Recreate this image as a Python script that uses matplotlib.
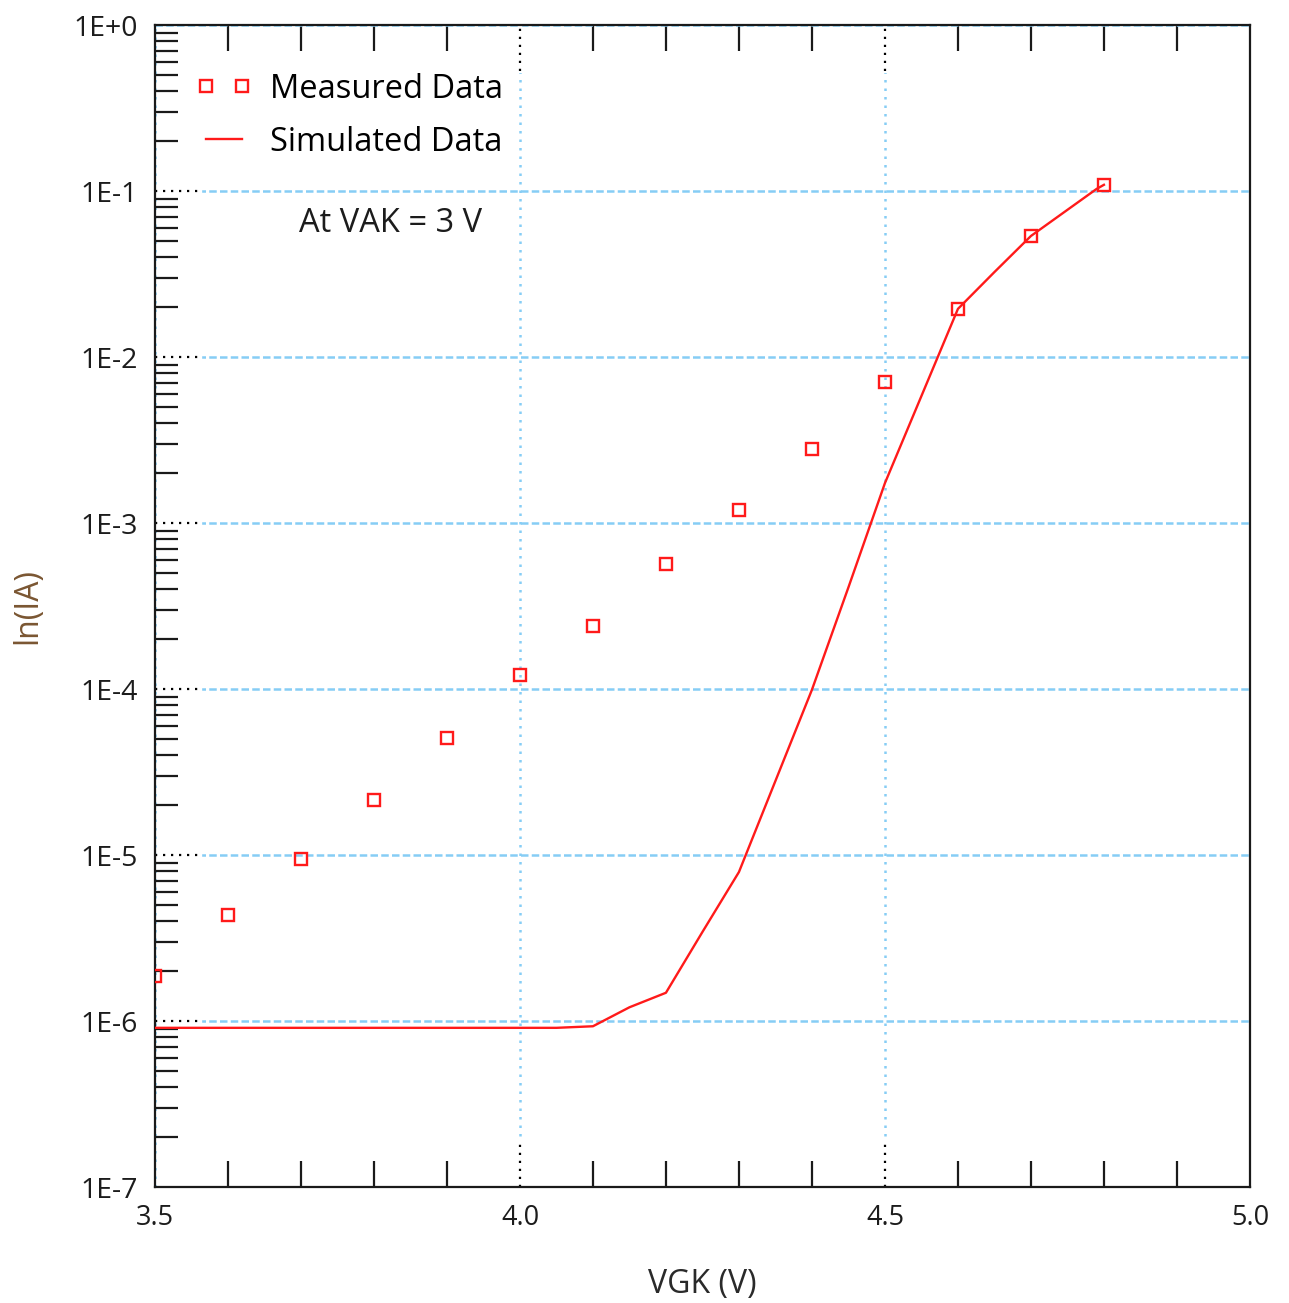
"""Plot measured and simulated anode current against gate-cathode voltage."""
from __future__ import annotations

import math

import matplotlib

matplotlib.use("Agg")
import matplotlib.pyplot as plt
import matplotlib.transforms as mtransforms
from matplotlib.ticker import FixedLocator, FuncFormatter, LogLocator, NullFormatter

# Measured IA (A) at VAK = 3 V
VGK_MEASURED = [3.5, 3.6, 3.7, 3.8, 3.9, 4.0, 4.1, 4.2, 4.3, 4.4, 4.5, 4.6, 4.7, 4.8]
IA_MEASURED = [1.87e-6, 4.35e-6, 9.46e-6, 2.14e-5, 5.07e-5, 1.21e-4, 2.40e-4,
               5.67e-4, 1.20e-3, 2.79e-3, 7.07e-3, 1.95e-2, 5.36e-2, 0.109]

# Simulated IA (A)
VGK_SIMULATED = [3.5, 4.05, 4.1, 4.15, 4.2, 4.25, 4.3, 4.4, 4.45, 4.5,
                 4.6, 4.65, 4.7, 4.79, 4.8]
IA_SIMULATED = [9.1e-7, 9.1e-7, 9.3e-7, 1.21e-6, 1.48e-6, 3.44e-6, 7.9e-6,
                9.9e-5, 4.1e-4, 1.74e-3, 1.95e-2, 3.25e-2, 5.36e-2, 0.103, 0.109]

X_LIMITS = (3.5, 5.0)
Y_LIMITS = (1e-7, 1.0)
X_LABELED = [3.5, 4.0, 4.5, 5.0]
X_MINOR = [3.6, 3.7, 3.8, 3.9, 4.1, 4.2, 4.3, 4.4, 4.6, 4.7, 4.8, 4.9]
Y_DECADES = [1e-7, 1e-6, 1e-5, 1e-4, 1e-3, 1e-2, 1e-1, 1.0]

RED = "#ff1a1a"
GRID_BLUE = "#86cdf5"
INK = "#1c1c1c"


def configure_style() -> None:
    plt.rcParams.update(
        {
            "font.family": ["Open Sans", "DejaVu Sans"],
            "font.size": 20,
            "axes.linewidth": 1.6,
            "axes.edgecolor": "#1a1a1a",
        }
    )


def decade_label(value, _pos) -> str:
    exponent = int(round(math.log10(value)))
    return f"1E{exponent:+d}"


def draw_dotted_marks(axis) -> None:
    """Short black dotted marks where the grid meets the frame."""
    ytrans = mtransforms.blended_transform_factory(axis.transAxes, axis.transData)
    xtrans = mtransforms.blended_transform_factory(axis.transData, axis.transAxes)
    for value in Y_DECADES[1:-1]:
        axis.plot([0, 0.041], [value, value], transform=ytrans, color="white",
                  lw=2.4, zorder=2.1, clip_on=False)
        axis.plot([0, 0.041], [value, value], transform=ytrans, color="black",
                  lw=1.6, ls=(0, (1, 2.6)), zorder=2.2, clip_on=False)
    for value in X_LABELED[1:-1]:
        for span in ((0, 0.04), (0.96, 1.0)):
            axis.plot([value, value], span, transform=xtrans, color="white",
                      lw=2.4, zorder=2.1, clip_on=False)
            axis.plot([value, value], span, transform=xtrans, color="black",
                      lw=1.6, ls=(0, (1, 2.6)), zorder=2.2, clip_on=False)


def main() -> int:
    configure_style()
    fig = plt.figure(figsize=(12.89, 13.03), dpi=100)
    axis = fig.add_axes([0.1202, 0.0890, 0.8495, 0.8918])

    axis.set_yscale("log")
    axis.set_xlim(*X_LIMITS)
    axis.set_ylim(*Y_LIMITS)

    axis.plot(VGK_SIMULATED, IA_SIMULATED, color=RED, lw=1.7,
              label="Simulated Data", zorder=3)
    axis.plot(VGK_MEASURED, IA_MEASURED, ls="none", marker="s", ms=8,
              mfc="none", mec=RED, mew=1.7, label="Measured Data", zorder=4)

    # x: labelled ticks every 0.5 V (drawn as dotted marks), plain ticks every 0.1 V
    axis.xaxis.set_major_locator(FixedLocator(X_LABELED))
    axis.xaxis.set_minor_locator(FixedLocator(X_MINOR))
    axis.xaxis.set_major_formatter(FuncFormatter(lambda v, _p: f"{v:.1f}"))
    axis.tick_params(axis="x", which="major", direction="in", length=0,
                     pad=12, labelsize=19.5, labelcolor=INK, top=True)
    axis.tick_params(axis="x", which="minor", direction="in", length=19,
                     width=1.6, color="#1a1a1a", top=True, bottom=True)

    axis.yaxis.set_major_locator(FixedLocator(Y_DECADES))
    axis.yaxis.set_minor_locator(LogLocator(base=10, subs=range(2, 10), numticks=20))
    axis.yaxis.set_major_formatter(FuncFormatter(decade_label))
    axis.yaxis.set_minor_formatter(NullFormatter())
    axis.tick_params(axis="y", which="major", direction="in", length=0,
                     pad=12, labelsize=20.5, labelcolor=INK, right=False)
    axis.tick_params(axis="y", which="minor", direction="in", length=16.5,
                     width=1.6, color="#1a1a1a", right=False)

    axis.yaxis.grid(True, which="major", color=GRID_BLUE, lw=1.8,
                    ls=(0, (3.0, 1.3)))
    axis.xaxis.grid(True, which="major", color=GRID_BLUE, lw=1.8,
                    ls=(0, (1, 2.4)))
    axis.set_axisbelow(True)
    draw_dotted_marks(axis)

    axis.set_xlabel("VGK (V)", fontsize=23, color="#2a2a2a", labelpad=26)
    axis.set_ylabel("ln(IA)", fontsize=23, color="#7a5632", labelpad=21)

    handles, labels = axis.get_legend_handles_labels()
    axis.legend(handles[::-1], labels[::-1], loc="upper left",
                bbox_to_anchor=(0.038, 0.959), frameon=False, numpoints=2,
                fontsize=23.5, handlelength=1.7, handletextpad=0.55,
                labelspacing=0.62, borderpad=0, borderaxespad=0)

    axis.text(0.132, 0.8295, "At VAK = 3 V", transform=axis.transAxes,
              fontsize=23.5, color="#1c1c1c", va="center", ha="left")

    fig.savefig("out.png", dpi=100)
    plt.close(fig)
    return 0


if __name__ == "__main__":
    raise SystemExit(main())
